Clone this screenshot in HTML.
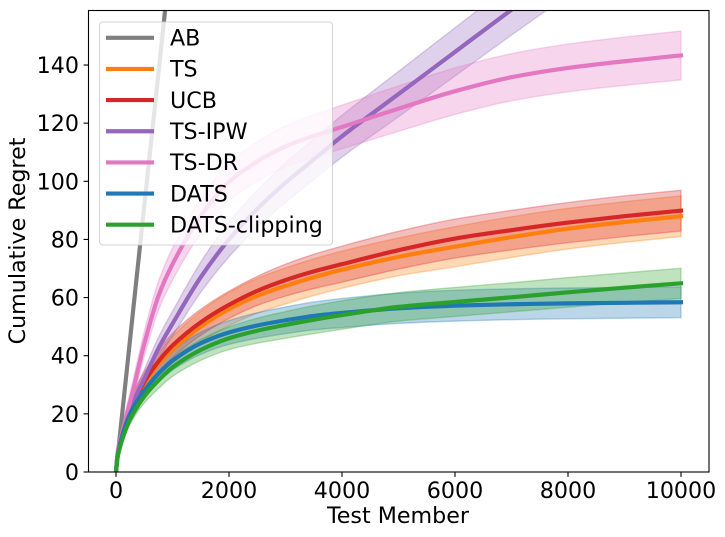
<!DOCTYPE html>
<html lang="en">
<head>
<meta charset="utf-8">
<title>Cumulative Regret Chart</title>
<style>
html,body{margin:0;padding:0;background:#fff;width:725px;height:537px;overflow:hidden}
svg{display:block}
text{font-family:"DejaVu Sans","Liberation Sans",sans-serif;fill:#000}
</style>
</head>
<body>
<svg id="chart" xmlns="http://www.w3.org/2000/svg" width="725" height="537" viewBox="0 0 725 537"></svg>
<script>
const testMembers = [0,25,50,100,200,300,500,750,1000,1500,2000,2500,3000,3500,4000,5000,6000,7000,8000,9000,10000];
const seriesNames = ['AB','TS','UCB','TS-IPW','TS-DR','DATS','DATS-clipping'];
const abMean = [0,4.6,9.2,18.3,36.6,55,91.5,137,183,275,366,458,549,641,732,915,1098,1281,1464,1647,1830];
const tsMean = [0,5.3,8,12.5,18.5,23,30,37,42,50,56,60.6,64,67,69.6,74,77.5,80.8,83.7,86,88];
const ucbMean = [0,5.5,8.5,13,19,23.8,31,38,43.5,51.5,57.5,62.3,66,69,71.5,76.3,80.3,83.2,85.8,88,89.9];
const ipwMean = [0,5.5,8.5,13,19,24,32,42.5,51,67,80,90.5,99.5,107.5,115.5,130,144.5,159,173,187,201];
const drMean = [0,6,9,13,20.5,28,44,60.5,71.5,88,99.8,106.8,112,115.6,118.7,125,131,135.8,139,141.3,143.3];
const datsMean = [0,5,7.6,11.8,17.8,22,28,33.8,38.3,44.3,48,50.4,52.2,53.7,54.7,56.3,57.2,57.7,58,58.2,58.4];
const clipMean = [0,4.6,7,10.5,16,20,26,31.5,36,42,46,48.6,50.6,52.4,54,56.8,58.5,60.1,61.8,63.4,64.9];
const tsErr = [0,.8,1.2,1.8,2.4,2.9,3.4,3.9,4.6,5.3,5.7,6,6.2,6.3,6.4,6.5,6.9,7,7,7,7];
const ucbErr = [0,.8,1.2,1.8,2.4,2.9,3.4,3.8,4.2,4.5,4.7,5,5.5,5.9,6.2,6.5,6.7,6.8,6.9,7,7];
const ipwErr = [0,.7,1,1.5,2.2,2.7,3.2,3.8,4.3,5.2,6,6.4,6.8,7,7.2,7.8,8.3,8.7,9,9.3,9.6];
const drErr = [0,1,1.5,2.2,3,3.5,4.3,5,5.5,6,6.5,6.8,7,7.3,7.5,7.8,8,8.1,8.2,8.3,8.4];
const datsErr = [0,.6,.9,1.3,1.8,2.1,2.6,3,3.3,3.8,4.1,4.4,4.6,4.8,5,5.2,5.3,5.3,5.3,5.3,5.3];
const clipErr = [0,.5,.8,1.1,1.5,1.8,2.3,2.8,3.1,3.6,3.9,4.3,4.6,4.8,4.9,4.9,5,5,5.1,5.1,5.2];
const xTicks = [0,2000,4000,6000,8000,10000];
const yTicks = [0,20,40,60,80,100,120,140];

const NS = 'http://www.w3.org/2000/svg';
const svg = document.getElementById('chart');
const LEFT = 88.5, RIGHT = 709, TOP = 10.5, BOTTOM = 472;
const FONT = 22.2;
const xScale = v => 116 + v * 0.0565;
const yScale = v => 472 - v * 2.907;
function make(tag, attrs, parent) {
  const el = document.createElementNS(NS, tag);
  for (const k in attrs) el.setAttribute(k, attrs[k]);
  (parent || svg).appendChild(el);
  return el;
}
/* monotone cubic segments through pixel points */
function curve(pts) {
  const n = pts.length;
  const s = [];
  for (let i = 0; i < n - 1; i++) s.push((pts[i+1][1] - pts[i][1]) / (pts[i+1][0] - pts[i][0]));
  const m = [s[0]];
  for (let i = 1; i < n - 1; i++) {
    m.push(s[i-1] * s[i] <= 0 ? 0 : 2 * s[i-1] * s[i] / (s[i-1] + s[i]));
  }
  m.push(s[n-2]);
  let d = '';
  for (let i = 0; i < n - 1; i++) {
    const h = (pts[i+1][0] - pts[i][0]) / 3;
    d += 'C' + (pts[i][0] + h).toFixed(2) + ' ' + (pts[i][1] + m[i] * h).toFixed(2) + ' ' +
         (pts[i+1][0] - h).toFixed(2) + ' ' + (pts[i+1][1] - m[i+1] * h).toFixed(2) + ' ' +
         pts[i+1][0].toFixed(2) + ' ' + pts[i+1][1].toFixed(2);
  }
  return d;
}
const colors = ['#7f7f7f','#ff7f0e','#d62728','#9467bd','#e377c2','#1f77b4','#2ca02c'];
const means = [abMean,tsMean,ucbMean,ipwMean,drMean,datsMean,clipMean];
const errs = [null,tsErr,ucbErr,ipwErr,drErr,datsErr,clipErr];

const defs = make('defs', {});
const clip = make('clipPath', {id:'plot-clip'}, defs);
make('rect', {x:LEFT, y:TOP, width:RIGHT-LEFT, height:BOTTOM-TOP}, clip);
const plot = make('g', {'clip-path':'url(#plot-clip)'});



means.forEach((m, i) => {
  if (!errs[i]) return;
  const upper = testMembers.map((x, j) => [xScale(x), yScale(m[j] + errs[i][j])]);
  const lower = testMembers.map((x, j) => [xScale(x), yScale(m[j] - errs[i][j])]).reverse();
  const d = 'M' + upper[0][0].toFixed(2) + ' ' + upper[0][1].toFixed(2) + curve(upper) +
            'L' + lower[0][0].toFixed(2) + ' ' + lower[0][1].toFixed(2) + curve(lower) + 'Z';
  const band = make('path', {d: d, fill: colors[i], 'fill-opacity': .3, stroke: colors[i], 'stroke-opacity': .3, 'stroke-width': 1.4}, plot);
  
  
});
means.forEach((m, i) => {
  const pts = testMembers.map((x, j) => [xScale(x), yScale(m[j])]);
  const d = 'M' + pts[0][0].toFixed(2) + ' ' + pts[0][1].toFixed(2) + curve(pts);
  const line = make('path', {d: d, fill: 'none', stroke: colors[i], 'stroke-width': 4.17, 'stroke-linecap': 'square', 'stroke-linejoin': 'round'}, plot);
  
  
});

const frame = make('rect', {x:LEFT, y:TOP, width:RIGHT-LEFT, height:BOTTOM-TOP, fill:'none', stroke:'#000', 'stroke-width':1.1});



xTicks.forEach(t => {
  const px = xScale(t);
  const tick = make('line', {x1:px, x2:px, y1:BOTTOM, y2:BOTTOM+4.9, stroke:'#000', 'stroke-width':1.1});
  
  
  const label = make('text', {x:px, y:BOTTOM+26, 'font-size':FONT, 'text-anchor':'middle'});
  label.textContent = t;
  
  
});
yTicks.forEach(t => {
  const py = yScale(t);
  const tick = make('line', {x1:LEFT-4.9, x2:LEFT, y1:py, y2:py, stroke:'#000', 'stroke-width':1.1});
  
  
  const label = make('text', {x:LEFT-9.5, y:py+8, 'font-size':FONT, 'text-anchor':'end'});
  label.textContent = t;
  
  
});

const xTitle = make('text', {x:398, y:523, 'font-size':FONT, 'text-anchor':'middle'});
xTitle.textContent = 'Test Member';


const yTitle = make('text', {x:25, y:241, 'font-size':FONT, 'text-anchor':'middle', transform:'rotate(-90 25 241)'});
yTitle.textContent = 'Cumulative Regret';



const legend = make('g', {});


make('rect', {x:99.5, y:22, width:233, height:223, rx:3.5, ry:3.5, fill:'#fff', 'fill-opacity':.8, stroke:'#ccc', 'stroke-opacity':.8, 'stroke-width':1.1}, legend);
seriesNames.forEach((name, i) => {
  const rowY = 37.8 + i * 31.15;
  const key = make('line', {x1:106, x2:154, y1:rowY, y2:rowY, stroke:colors[i], 'stroke-width':4.17}, legend);
  
  
  const txt = make('text', {x:170, y:rowY+7.7, 'font-size':FONT}, legend);
  txt.textContent = name;
  
  
});
</script>
</body>
</html>
